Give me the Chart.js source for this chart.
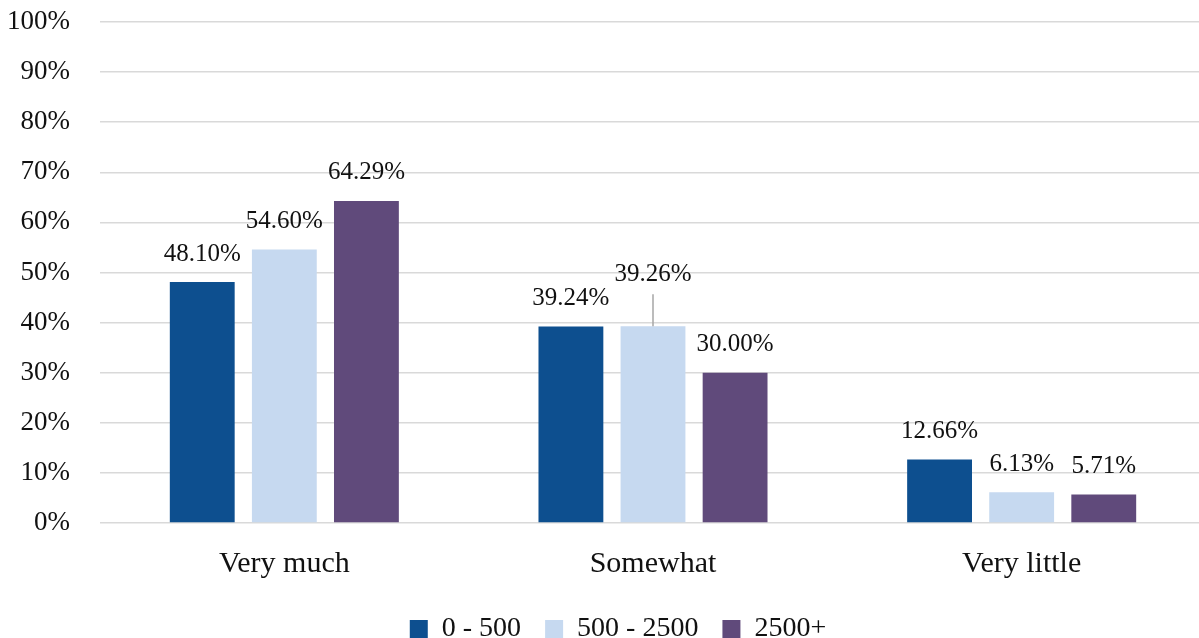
<!DOCTYPE html>
<html>
<head>
<meta charset="utf-8">
<script src="https://cdn.jsdelivr.net/npm/chart.js@4/dist/chart.umd.min.js"></script>
<style>
  html, body { margin: 0; padding: 0; background: #ffffff; overflow: hidden; }
  #wrap { width: 1206px; height: 638px; position: relative; }
</style>
</head>
<body>
<div id="wrap"><canvas id="chart"></canvas></div>
<script>
// Survey answers grouped by size band
const categories = ['Very much', 'Somewhat', 'Very little'];
const seriesNames = ['0 - 500', '500 - 2500', '2500+'];
const band0to500 = [48.10, 39.24, 12.66];
const band500to2500 = [54.60, 39.26, 6.13];
const band2500plus = [64.29, 30.00, 5.71];
const yTicks = [0, 10, 20, 30, 40, 50, 60, 70, 80, 90, 100];

const colors = ['#0D4F8F', '#C6D9F0', '#604A7B'];
const serif = '"Liberation Serif", "DejaVu Serif", serif';

// Value labels above each bar; one label is lifted with a leader line
const valueLabels = {
  id: 'valueLabels',
  afterDatasetsDraw(chart) {
    const ctx = chart.ctx;
    ctx.save();
    ctx.font = '25px ' + serif;
    ctx.fillStyle = '#111111';
    ctx.textAlign = 'center';
    ctx.textBaseline = 'middle';
    chart.data.datasets.forEach((ds, di) => {
      const meta = chart.getDatasetMeta(di);
      meta.data.forEach((bar, i) => {
        const lifted = (di === 1 && i === 1);
        const ty = bar.y - 28 - (lifted ? 24 : 0);
        if (lifted) {
          ctx.strokeStyle = '#A6A6A6';
          ctx.lineWidth = 1.5;
          ctx.beginPath();
          ctx.moveTo(bar.x, ty + 20);
          ctx.lineTo(bar.x, bar.y);
          ctx.stroke();
        }
        ctx.fillText(ds.data[i].toFixed(2) + '%', bar.x, ty);
      });
    });
    ctx.restore();
  }
};

// Fixed legend band height at the bottom, nudged right and down
const legendBand = {
  id: 'legendBand',
  beforeInit(chart) {
    const legend = chart.legend;
    if (!legend) return;
    const fit = legend.fit.bind(legend);
    legend.fit = function () { fit(); this.height = 53; };
  },
  afterLayout(chart) {
    const legend = chart.legend;
    if (!legend) return;
    legend.left += 15; legend.right += 15;
    legend.top += 6; legend.bottom += 6;
  }
};

new Chart(document.getElementById('chart'), {
  type: 'bar',
  data: {
    labels: categories,
    datasets: [
      { label: seriesNames[0], data: band0to500, backgroundColor: colors[0] },
      { label: seriesNames[1], data: band500to2500, backgroundColor: colors[1] },
      { label: seriesNames[2], data: band2500plus, backgroundColor: colors[2] }
    ]
  },
  options: {
    responsive: true,
    maintainAspectRatio: false,
    animation: false,
    datasets: { bar: { categoryPercentage: 0.668, barPercentage: 0.79 } },
    layout: { padding: { top: 22, right: 0, bottom: 0, left: 0 } },
    plugins: {
      legend: {
        position: 'bottom',
        labels: {
          font: { family: serif, size: 28 },
          color: '#111111',
          boxWidth: 18,
          boxHeight: 18,
          padding: 24
        }
      },
      tooltip: { enabled: false }
    },
    scales: {
      x: {
        afterFit(scale) { scale.height = 62; },
        grid: { display: false, drawTicks: false },
        border: { display: false },
        ticks: { font: { family: serif, size: 30 }, color: '#111111', padding: 23 }
      },
      y: {
        min: 0,
        max: 100,
        afterBuildTicks(scale) { scale.ticks = yTicks.map(v => ({ value: v })); },
        afterFit(scale) {
          scale.width = 100;
          scale.paddingTop = 0;
          scale.paddingBottom = 0;
        },
        grid: { color: '#D9D9D9', lineWidth: 1.5, drawTicks: false },
        border: { display: false },
        ticks: {
          font: { family: serif, size: 27 },
          color: '#111111',
          padding: 30,
          callback: v => v + '%'
        }
      }
    }
  },
  plugins: [valueLabels, legendBand]
});
</script>
</body>
</html>
